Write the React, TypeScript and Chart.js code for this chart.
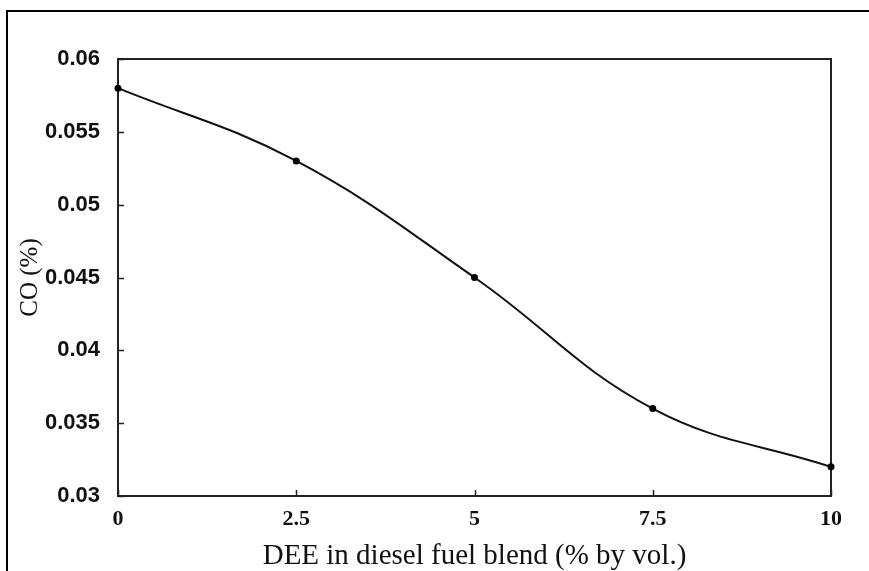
import React, { useEffect, useRef } from "react";
import { Chart, registerables } from "chart.js";

Chart.register(...registerables);

const xValues = [0, 2.5, 5, 7.5, 10];
const coValues = [0.058, 0.053, 0.045, 0.036, 0.032];
const xTicks = [0, 2.5, 5, 7.5, 10];
const yTicks = [0.03, 0.035, 0.04, 0.045, 0.05, 0.055, 0.06];

const framePlugin = {
  id: "framePlugin",
  beforeDraw(chart: any) {
    const ctx = chart.ctx;
    ctx.save();
    ctx.fillStyle = "#fff";
    ctx.fillRect(0, 0, chart.width, chart.height);
    ctx.strokeStyle = "#000";
    ctx.lineWidth = 2;
    ctx.beginPath();
    ctx.moveTo(7, chart.height);
    ctx.lineTo(7, 11);
    ctx.lineTo(chart.width, 11);
    ctx.stroke();
    ctx.restore();
  },
  beforeDatasetsDraw(chart: any) {
    const ctx = chart.ctx;
    const { left, right, top, bottom } = chart.chartArea;
    const xs = chart.scales.x;
    const ys = chart.scales.y;
    ctx.save();
    ctx.strokeStyle = "#222";
    ctx.lineWidth = 2;
    ctx.strokeRect(left, top, right - left, bottom - top);
    ctx.lineWidth = 1.5;
    ctx.beginPath();
    yTicks.forEach((v) => {
      const py = Math.round(ys.getPixelForValue(v)) + 0.5;
      ctx.moveTo(left, py);
      ctx.lineTo(left + 6, py);
    });
    xTicks.forEach((v) => {
      const px = Math.round(xs.getPixelForValue(v)) + 0.5;
      ctx.moveTo(px, bottom);
      ctx.lineTo(px, bottom - 6);
    });
    ctx.stroke();
    ctx.restore();
  },
};

export default function App() {
  const ref = useRef<HTMLCanvasElement>(null);
  useEffect(() => {
    document.body.style.margin = "0";
    const chart = new Chart(ref.current!, {
      type: "line",
      data: {
        datasets: [
          {
            data: xValues.map((x, i) => ({ x, y: coValues[i] })),
            borderColor: "#111",
            backgroundColor: "#000",
            borderWidth: 2,
            pointRadius: 3.5,
            pointBackgroundColor: "#000",
            pointBorderWidth: 0,
            tension: 0.4,
            fill: false,
            clip: false,
          },
        ],
      },
      options: {
        animation: false,
        responsive: false,
        maintainAspectRatio: false,
        events: [],
        layout: { padding: { left: 0, top: 59, right: 38, bottom: 0 } },
        plugins: {
          legend: { display: false },
          tooltip: { enabled: false },
        },
        scales: {
          x: {
            type: "linear",
            min: 0,
            max: 10,
            afterBuildTicks: (s: any) => {
              s.ticks = xTicks.map((v) => ({ value: v }));
            },
            afterFit: (s: any) => {
              s.height = 75;
            },
            grid: { display: false, drawTicks: false },
            border: { display: false },
            ticks: {
              color: "#111",
              padding: 10,
              maxRotation: 0,
              font: { family: "'Liberation Serif', serif", size: 22, weight: "bold" },
              callback: (v: any) => String(v),
            },
            title: {
              display: true,
              text: "DEE in diesel fuel blend (% by vol.)",
              color: "#111",
              padding: { top: 0, bottom: 0 },
              font: { family: "'Liberation Serif', serif", size: 29, lineHeight: 1.0 },
            },
          },
          y: {
            type: "linear",
            min: 0.03,
            max: 0.06,
            afterBuildTicks: (s: any) => {
              s.ticks = yTicks.map((v) => ({ value: v }));
            },
            afterFit: (s: any) => {
              s.width = 118;
            },
            grid: { display: false, drawTicks: false },
            border: { display: false },
            ticks: {
              color: "#111",
              padding: 18,
              font: { family: "'Liberation Sans', sans-serif", size: 22, weight: "bold" },
              callback: (v: any) => String(Number(v.toFixed(3))),
            },
            title: {
              display: true,
              text: "CO (%)",
              color: "#111",
              padding: { top: 15, bottom: 0 },
              font: { family: "'Liberation Serif', serif", size: 25 },
            },
          },
        },
      },
      plugins: [framePlugin],
    });
    return () => chart.destroy();
  }, []);
  return (
    <div style={{ width: 869, height: 571 }}>
      <canvas ref={ref} width={869} height={571} style={{ display: "block" }} />
    </div>
  );
}
